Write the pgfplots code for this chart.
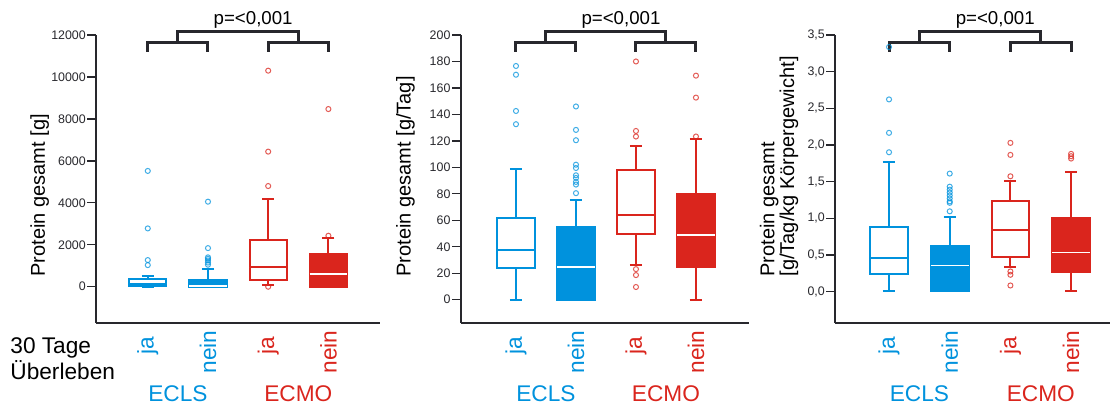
\documentclass[border=0pt]{standalone}
\usepackage{fontspec}
\setmainfont{Liberation Sans}
\usepackage{pgfplots}
\pgfplotsset{compat=1.18}
\usepgfplotslibrary{statistics}

\definecolor{cb}{RGB}{0,146,221}
\definecolor{cr}{RGB}{218,37,29}
\definecolor{axc}{RGB}{40,40,45}

\pgfplotsset{
  panel/.style={
    scale only axis, height=216pt, anchor=south west,
    axis lines*=left, clip=false,
    axis line style={axc, line width=1.4pt},
    tick align=outside, major tick length=6.5pt,
    ytick style={axc, line width=1pt},
    xtick style={draw=none},
    xtick={1,2,3,4},
    xticklabels={{\textcolor{cb}{\kern9pt ja}},{\textcolor{cb}{nein}},{\textcolor{cr}{\kern9pt ja}},{\textcolor{cr}{nein}}},
    xticklabel style={yshift=-15.3pt, rotate=90, anchor=center, font=\fontsize{17}{20}\selectfont},
    yticklabel style={font=\fontsize{9.3}{11}\selectfont, text=axc, inner sep=1pt},
    /pgf/number format/assume math mode=true,
    ylabel style={font=\fontsize{15}{13.8}\selectfont, inner sep=0pt, text=black},
  },
  openbox/.style={draw=#1, fill=white, line width=1.5pt,
    boxplot/draw direction=y, boxplot/box extend=0.62, boxplot/whisker extend=0.2,
    mark=o, mark size=1.9pt, mark options={line width=0.75pt, draw=#1, opacity=0.75, fill=none},
    boxplot/every median/.style={draw=#1, line width=1.5pt}},
  filledbox/.style={draw=#1, fill=#1, line width=1.5pt,
    boxplot/draw direction=y, boxplot/box extend=0.62, boxplot/whisker extend=0.2,
    mark=o, mark size=1.9pt, mark options={line width=0.75pt, draw=#1, opacity=0.75, fill=none},
    boxplot/every median/.style={draw=white, line width=1.2pt}},
}

% #1 leg bottom, #2 lower bar, #3 top bar, #4 p-text baseline, #5 group label baseline
\newcommand{\brackets}[5]{%
  \draw[line width=2.25pt, axc, line join=miter]
    (axis cs:1,#1) -- (axis cs:1,#2) -- (axis cs:2,#2) -- (axis cs:2,#1);
  \draw[line width=2.25pt, axc, line join=miter]
    (axis cs:3,#1) -- (axis cs:3,#2) -- (axis cs:4,#2) -- (axis cs:4,#1);
  \draw[line width=2.25pt, axc, line join=miter]
    (axis cs:1.5,#2) -- (axis cs:1.5,#3) -- (axis cs:3.5,#3) -- (axis cs:3.5,#2);
  \node[anchor=base, inner sep=0pt, font=\fontsize{14}{16}\selectfont] at (axis cs:2.75,#4) {p=<0,001};
  \node[anchor=base, inner sep=0pt, font=\fontsize{17}{20}\selectfont, text=cb] at (axis cs:1.5,#5) {ECLS};
  \node[anchor=base, inner sep=0pt, font=\fontsize{17}{20}\selectfont, text=cr] at (axis cs:3.5,#5) {ECMO};
}

\begin{document}
\begin{tikzpicture}
\useasboundingbox (0,0) rectangle (832.5pt,303.75pt);

\node[anchor=base west, inner sep=0pt, font=\fontsize{17}{20}\selectfont] at (7.6pt,38.8pt) {30 Tage};
\node[anchor=base west, inner sep=0pt, font=\fontsize{17}{20}\selectfont] at (7.6pt,19.3pt) {Überleben};

% Panel 1
\begin{axis}[panel, at={(72pt,61.5pt)}, width=213pt,
  xmin=0.14, xmax=4.857, ymin=-1730, ymax=12000,
  ytick={0,2000,...,12000}, scaled y ticks=false,
  yticklabel style={/pgf/number format/1000 sep={}},
  ylabel={Protein gesamt [g]},
  ylabel style={at={(axis description cs:-0.1796,0.1608)}, anchor=base west}]
\addplot[openbox=cb, boxplot prepared={draw position=1, lower whisker=0, lower quartile=30, median=150, upper quartile=360, upper whisker=500}]
  coordinates {(1,5520) (1,2780) (1,1270) (1,1030)};
\addplot[filledbox=cb, boxplot prepared={draw position=2, lower whisker=0, lower quartile=0, median=40, upper quartile=310, upper whisker=830}]
  coordinates {(2,4054) (2,1840) (2,1400) (2,1330) (2,1250) (2,1150) (2,1050)};
\addplot[openbox=cr, boxplot prepared={draw position=3, lower whisker=80, lower quartile=320, median=920, upper quartile=2230, upper whisker=4170}]
  coordinates {(3,10300) (3,6440) (3,4800) (3,0)};
\addplot[filledbox=cr, boxplot prepared={draw position=4, lower whisker=0, lower quartile=0, median=600, upper quartile=1540, upper whisker=2300}]
  coordinates {(4,8470) (4,2430)};
\brackets{11204}{11633}{12158}{12522}{-5478}
\end{axis}

% Panel 2
\begin{axis}[panel, at={(345.5pt,61.5pt)}, width=216.2pt,
  xmin=0.078, xmax=4.883, ymin=-17.6, ymax=200,
  ytick={0,20,...,200},
  ylabel={Protein gesamt [g/Tag]},
  ylabel style={at={(axis description cs:-0.1734,0.1608)}, anchor=base west}]
\addplot[openbox=cb, boxplot prepared={draw position=1, lower whisker=0, lower quartile=23.6, median=37.7, upper quartile=61.6, upper whisker=98.6}]
  coordinates {(1,176.6) (1,170) (1,142.6) (1,132.6)};
\addplot[filledbox=cb, boxplot prepared={draw position=2, lower whisker=0, lower quartile=0, median=24.7, upper quartile=54.8, upper whisker=75.5}]
  coordinates {(2,146) (2,128.3) (2,120.5) (2,102) (2,99.5) (2,94) (2,92) (2,89) (2,87) (2,80.5)};
\addplot[openbox=cr, boxplot prepared={draw position=3, lower whisker=25.9, lower quartile=49.6, median=64.2, upper quartile=98.1, upper whisker=116.2}]
  coordinates {(3,180) (3,127.5) (3,123.3) (3,23.1) (3,18.6) (3,9.6)};
\addplot[filledbox=cr, boxplot prepared={draw position=4, lower whisker=0, lower quartile=24.9, median=49, upper quartile=79.7, upper whisker=121.5}]
  coordinates {(4,169.3) (4,152.7) (4,123.3)};
\brackets{187.38}{194.19}{202.5}{208.27}{-77}
\end{axis}

% Panel 3
\begin{axis}[panel, at={(626.25pt,61.5pt)}, width=222.6pt,
  xmin=0.11, xmax=5.0, ymin=-0.43, ymax=3.5,
  ytick={0,0.5,...,3.5},
  yticklabel style={/pgf/number format/.cd, fixed, fixed zerofill, precision=1, use comma},
  ylabel={Protein gesamt\\{}[g/Tag/kg Körpergewicht]},
  ylabel style={at={(axis description cs:-0.2544,0.1608)}, anchor=north west, align=left}]
\addplot[openbox=cb, boxplot prepared={draw position=1, lower whisker=0, lower quartile=0.237, median=0.451, upper quartile=0.875, upper whisker=1.764}]
  coordinates {(1,3.336) (1,2.621) (1,2.165) (1,1.90)};
\addplot[filledbox=cb, boxplot prepared={draw position=2, lower whisker=0, lower quartile=0, median=0.356, upper quartile=0.62, upper whisker=1.012}]
  coordinates {(2,1.609) (2,1.43) (2,1.39) (2,1.35) (2,1.31) (2,1.27) (2,1.23) (2,1.21) (2,1.094)};
\addplot[openbox=cr, boxplot prepared={draw position=3, lower whisker=0.328, lower quartile=0.469, median=0.843, upper quartile=1.235, upper whisker=1.504}]
  coordinates {(3,2.028) (3,1.864) (3,1.572) (3,0.273) (3,0.228) (3,0.082)};
\addplot[filledbox=cr, boxplot prepared={draw position=4, lower whisker=0, lower quartile=0.26, median=0.533, upper quartile=1.003, upper whisker=1.636}]
  coordinates {(4,1.878) (4,1.846) (4,1.814)};
\brackets{3.272}{3.395}{3.545}{3.649}{-1.503}
\end{axis}
\end{tikzpicture}
\end{document}
